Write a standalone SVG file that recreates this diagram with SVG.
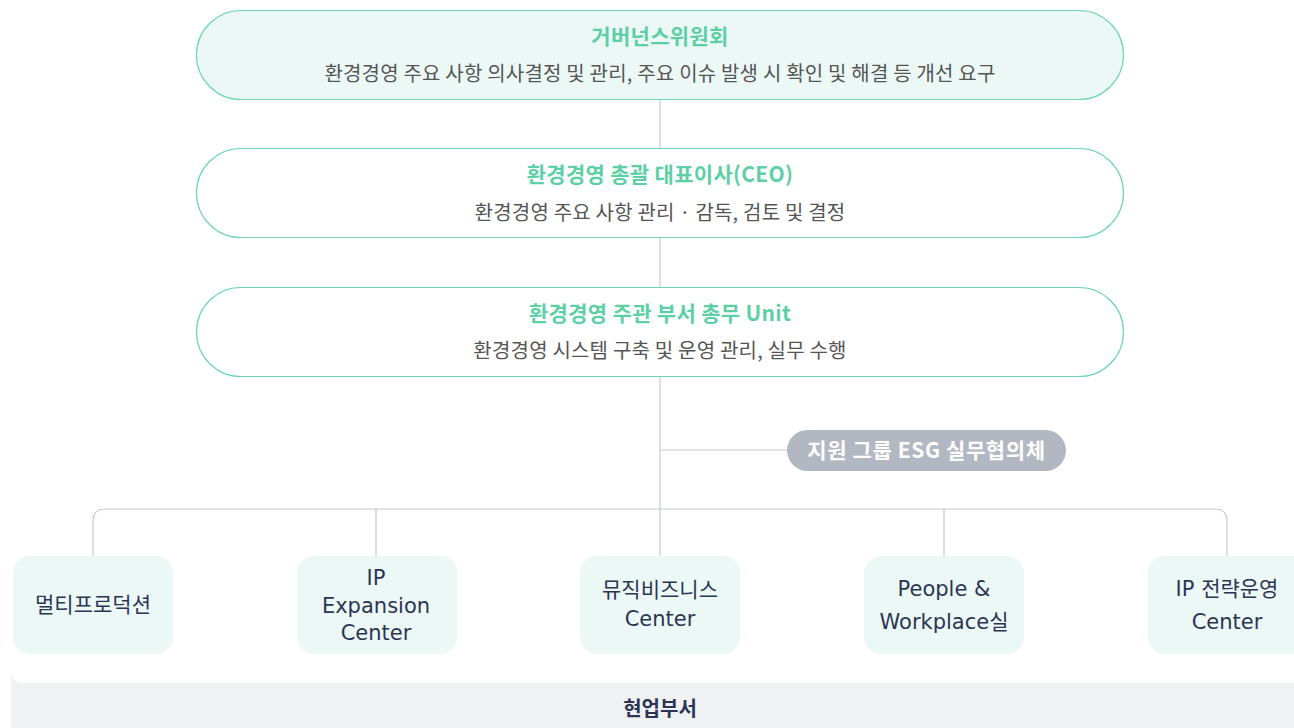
<svg xmlns="http://www.w3.org/2000/svg" width="1294" height="728" viewBox="0 0 1294 728">
<style>
.pill{stroke:#6dd7b4;stroke-width:1.2}
.t{font-family:"Noto Sans CJK KR","Noto Sans",sans-serif;font-weight:700;font-size:21px;fill:#5dcfa6;text-anchor:middle;letter-spacing:0.3px}
.s{font-family:"Noto Sans CJK KR","Noto Sans",sans-serif;font-size:20px;fill:#555;text-anchor:middle;letter-spacing:0.2px}
.box{fill:#ebf8f5}
.b{font-family:"DejaVu Sans","Noto Sans CJK KR",sans-serif;font-size:21px;fill:#2b3553;text-anchor:middle}
.ln{stroke:#c3c8d2;stroke-width:1.2;fill:none}
</style>
<rect width="1294" height="728" fill="#fff"/>
<g id="dept-band">
<rect x="11" y="660" width="1310" height="90" rx="12" fill="#eff1f3"/>
<rect x="11" y="500" width="1310" height="183" rx="12" fill="#fff"/>
<text x="660" y="716" font-family="'Noto Sans CJK KR',sans-serif" font-weight="700" font-size="20" fill="#2b3553" text-anchor="middle">현업부서</text>
</g>
<g id="connectors">
<line class="ln" x1="660" y1="99" x2="660" y2="556"/>
<line class="ln" x1="660" y1="450" x2="790" y2="450"/>
<path class="ln" d="M93 556 V521 Q93 509 105 509 H1215 Q1227 509 1227 521 V556"/>
<line class="ln" x1="376" y1="509" x2="376" y2="556"/>
<line class="ln" x1="944" y1="509" x2="944" y2="556"/>
</g>
<g id="governance">
<rect class="pill" x="196.5" y="10.5" width="927" height="89" rx="44.5" fill="#ecf8f5"/>
<text class="t" x="660" y="44">거버넌스위원회</text>
<text class="s" x="660" y="81">환경경영 주요 사항 의사결정 및 관리, 주요 이슈 발생 시 확인 및 해결 등 개선 요구</text>
</g>
<g id="ceo">
<rect class="pill" x="196.5" y="148.5" width="927" height="89" rx="44.5" fill="#fff"/>
<text class="t" x="660" y="182">환경경영 총괄 대표이사(CEO)</text>
<text class="s" x="660" y="220">환경경영 주요 사항 관리 · 감독, 검토 및 결정</text>
</g>
<g id="unit">
<rect class="pill" x="196.5" y="287.5" width="927" height="89" rx="44.5" fill="#fff"/>
<text class="t" x="660" y="321">환경경영 주관 부서 총무 Unit</text>
<text class="s" x="660" y="358">환경경영 시스템 구축 및 운영 관리, 실무 수행</text>
</g>
<g id="esg">
<rect x="787" y="430" width="279" height="41" rx="20.5" fill="#b2b8c2"/>
<text x="926.5" y="458" font-family="'Noto Sans CJK KR',sans-serif" font-weight="700" font-size="21" letter-spacing="0.6" fill="#fff" text-anchor="middle">지원 그룹 ESG 실무협의체</text>
</g>
<g id="multi">
<rect class="box" x="13" y="556" width="160" height="98" rx="17"/>
<text class="b" x="93" y="612">멀티프로덕션</text>
</g>
<g id="ipexp">
<rect class="box" x="297" y="556" width="160" height="98" rx="17"/>
<text class="b" x="376" y="585">IP</text>
<text class="b" x="376" y="613">Expansion</text>
<text class="b" x="376" y="640">Center</text>
</g>
<g id="music">
<rect class="box" x="580" y="556" width="160" height="98" rx="17"/>
<text class="b" x="660" y="597">뮤직비즈니스</text>
<text class="b" x="660" y="626">Center</text>
</g>
<g id="people">
<rect class="box" x="864" y="556" width="160" height="98" rx="17"/>
<text class="b" x="944" y="596">People &amp;</text>
<text class="b" x="944" y="629">Workplace실</text>
</g>
<g id="ipstrat">
<rect class="box" x="1148" y="556" width="170" height="98" rx="17"/>
<text class="b" x="1227" y="596">IP 전략운영</text>
<text class="b" x="1227" y="629">Center</text>
</g>
</svg>
